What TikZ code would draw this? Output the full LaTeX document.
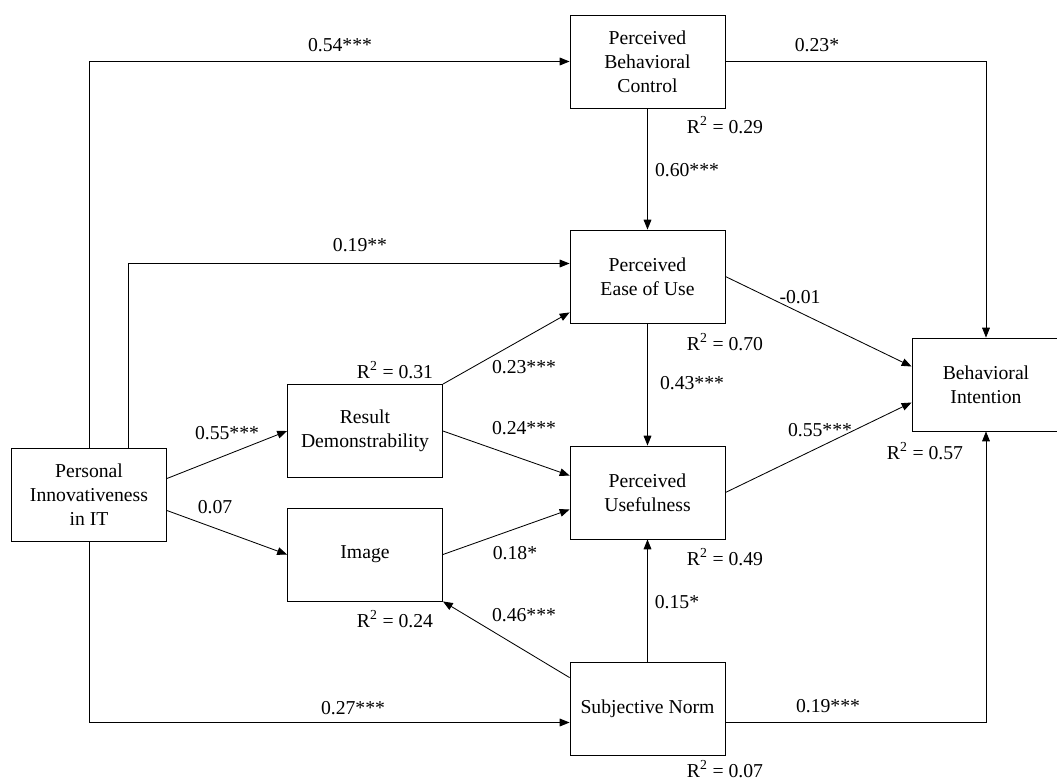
\documentclass[tikz,border=0pt]{standalone}
\usepackage{fontspec}
\setmainfont{Liberation Serif}
\usetikzlibrary{arrows.meta,calc}

\begin{document}
\begin{tikzpicture}
      [x = 0.025cm, y = -0.025cm,
      effect/.style={-{Triangle[length=7pt,width=5.5pt]}, line width = 0.6pt},
      construct/.style= {
         draw,
         line width = 0.6pt,
         align = center,
         minimum width = 3.875cm,
         minimum height = 2.325cm,
         inner sep = 2pt,
         font = \fontsize{14}{17}\selectfont
      },
      coef/.style= {
         font = \fontsize{14}{17}\selectfont,
         inner sep = 1pt
      }]

      \useasboundingbox (0, 0) rectangle (1057, 783);

      % constructs
      \node[construct] (PIIT) at (89, 494.5) {Personal\\Innovativeness\\in IT};
      \node[construct] (RD) at (365, 431) {Result\\Demonstrability};
      \node[construct] (IMG) at (365, 554.5) {Image};
      \node[construct] (PBC) at (647.5, 61.5) {Perceived\\Behavioral\\Control};
      \node[construct] (PEOU) at (647.5, 276.5) {Perceived\\Ease of Use};
      \node[construct] (PU) at (647.5, 492.5) {Perceived\\Usefulness};
      \node[construct] (SN) at (647.5, 708.5) {Subjective Norm};
      \node[construct, minimum width = 3.7cm] (BI) at (986, 384.5) {Behavioral\\Intention};

      % paths
      \draw[effect] (PIIT.north) |- (PBC.west);
      \draw[effect] ($(PIIT.north)+(39, 0)$) |- ($(PEOU.west)+(0, -13)$);
      \draw[effect] (PIIT.south) |- ($(SN.west)+(0, 14)$);
      \draw[effect] ($(PIIT.east)+(0, -16)$) -- (RD.west);
      \draw[effect] ($(PIIT.east)+(0, 16)$) -- (IMG.west);
      \draw[effect] (RD.north east) -- ($(PEOU.south west)+(0, -11)$);
      \draw[effect] (RD.east) -- ($(PU.west)+(0, -17)$);
      \draw[effect] (IMG.east) -- ($(PU.west)+(0, 17)$);
      \draw[effect] ($(SN.north west)+(0, 16)$) -- (IMG.south east);
      \draw[effect] (PBC.south) -- (PEOU.north);
      \draw[effect] (PEOU.south) -- (PU.north);
      \draw[effect] (SN.north) -- (PU.south);
      \draw[effect] (PEOU.east) -- ($(BI.west)+(0, -18)$);
      \draw[effect] (PU.east) -- ($(BI.west)+(0, 18)$);
      \draw[effect] (PBC.east) -| (BI.north);
      \draw[effect] ($(SN.east)+(0, 14)$) -| (BI.south);

      % coefficients
      \node[coef] (c54) at (340, 45) {0.54***};
      \node[coef] (c19a) at (360, 245) {0.19**};
      \node[coef] (c23a) at (817, 45) {0.23*};
      \node[coef] (c60) at (687, 170) {0.60***};
      \node[coef] (c01) at (800, 297) {-0.01};
      \node[coef] (c43) at (692, 383) {0.43***};
      \node[coef] (c55b) at (820, 430) {0.55***};
      \node[coef] (c15) at (677, 602) {0.15*};
      \node[coef] (c19b) at (828, 706) {0.19***};
      \node[coef] (c27) at (353, 708) {0.27***};
      \node[coef] (c55a) at (227, 433) {0.55***};
      \node[coef] (c07) at (215, 507) {0.07};
      \node[coef] (c23b) at (524, 367) {0.23***};
      \node[coef] (c24) at (524, 428) {0.24***};
      \node[coef] (c18) at (515, 553) {0.18*};
      \node[coef] (c46) at (524, 615) {0.46***};

      % explained variance
      \node[coef] (rPBC) at (725, 125) {R\textsuperscript{2} = 0.29};
      \node[coef] (rPEOU) at (725, 342) {R\textsuperscript{2} = 0.70};
      \node[coef] (rBI) at (925, 451) {R\textsuperscript{2} = 0.57};
      \node[coef] (rPU) at (725, 557) {R\textsuperscript{2} = 0.49};
      \node[coef] (rSN) at (725, 769) {R\textsuperscript{2} = 0.07};
      \node[coef] (rRD) at (395, 370) {R\textsuperscript{2} = 0.31};
      \node[coef] (rIMG) at (395, 619) {R\textsuperscript{2} = 0.24};

   \end{tikzpicture}
\end{document}
